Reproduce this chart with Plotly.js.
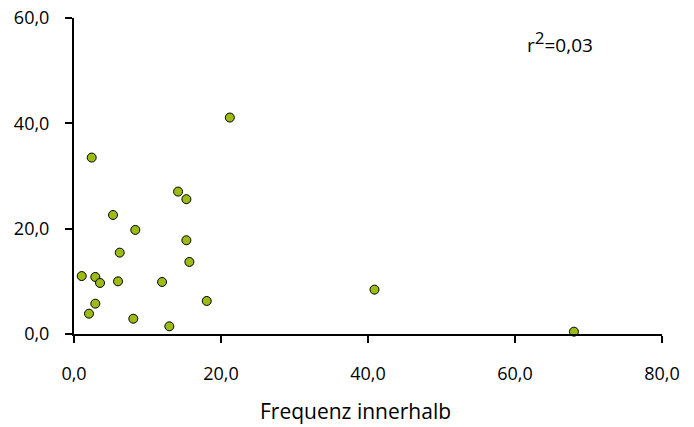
<!DOCTYPE html>
<html>
<head>
<meta charset="utf-8">
<script src="https://cdn.plot.ly/plotly-3.0.1.min.js"></script>
<style>html,body{margin:0;padding:0;background:#fff}#chart{width:694px;height:427px}</style>
</head>
<body>
<div id="chart"></div>
<script>
var frequenzInnerhalb = [1.05, 2.04, 2.9, 2.9, 3.54, 5.31, 5.99, 6.22, 8.07, 8.34, 11.98, 12.97, 14.16, 15.29, 15.29, 15.7, 18.06, 2.41, 21.2, 40.88, 68.02];
var yWerte = [11.0, 3.86, 10.83, 5.76, 9.69, 22.6, 10.0, 15.45, 2.9, 19.76, 9.88, 1.46, 27.04, 25.6, 17.8, 13.68, 6.27, 33.5, 41.1, 8.42, 0.44];
var xTicks = [0, 20, 40, 60, 80];
var xTickLabels = ["0,0", "20,0", "40,0", "60,0", "80,0"];
var yTicks = [0, 20, 40, 60];
var yTickLabels = ["0,0", "20,0", "40,0", "60,0"];
var xTitle = "Frequenz innerhalb";
var rText = "r<sup><span style='font-size:17px'>2</span></sup>=0,03";

var font = "Open Sans, Noto Sans, sans-serif";
var trace = {
  x: frequenzInnerhalb, y: yWerte, type: "scatter", mode: "markers",
  marker: {size: 9, color: "#9cbb14", line: {color: "#000", width: 1}},
  cliponaxis: false, hoverinfo: "skip"
};
var layout = {
  width: 694, height: 427,
  margin: {l: 74, r: 32, t: 18, b: 93},
  paper_bgcolor: "#fff", plot_bgcolor: "#fff",
  showlegend: false,
  font: {family: font, color: "#000", size: 18},
  xaxis: {
    range: [0, 80], tickvals: xTicks, ticktext: xTickLabels,
    showgrid: false, zeroline: false, showline: true, linecolor: "#000", linewidth: 2,
    ticks: "outside", ticklen: 7, tickwidth: 2, tickcolor: "#000",
    tickfont: {family: font, size: 18}, ticklabelstandoff: 15
  },
  yaxis: {
    range: [0, 60], tickvals: yTicks, ticktext: yTickLabels,
    showgrid: false, zeroline: false, showline: true, linecolor: "#000", linewidth: 2,
    ticks: "outside", ticklen: 7, tickwidth: 2, tickcolor: "#000",
    tickfont: {family: font, size: 18}, ticklabelstandoff: 12
  },
  annotations: [
    {text: xTitle, xref: "paper", yref: "paper", x: (355 - 74) / 588, y: -(411 - 334) / 316,
     xanchor: "center", yanchor: "middle", showarrow: false, font: {family: font, size: 21}},
    {text: rText, xref: "paper", yref: "paper", x: (525 - 74) / 588, y: (334 - 42) / 316,
     xanchor: "left", yanchor: "middle", showarrow: false, font: {family: font, size: 19}}
  ]
};
Plotly.newPlot("chart", [trace], layout, {staticPlot: true, displayModeBar: false});
</script>
</body>
</html>
